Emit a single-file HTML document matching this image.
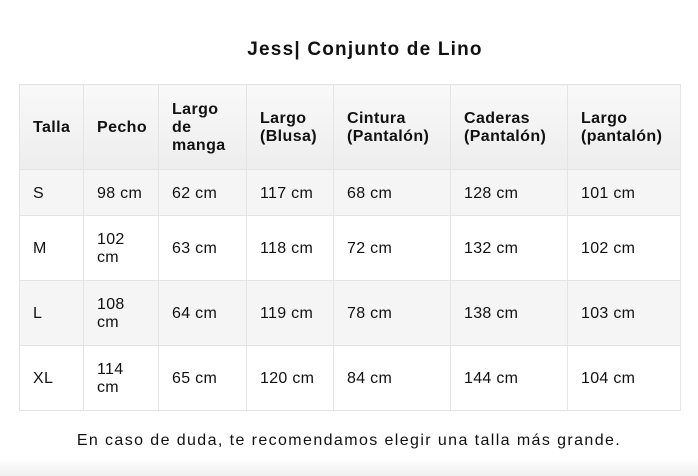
<!DOCTYPE html>
<html><head><meta charset="utf-8"><style>
body{margin:0;width:698px;height:476px;background:#fff;font-family:"Liberation Sans","DejaVu Sans",sans-serif;color:#111;position:relative;overflow:hidden}
.t{position:absolute;left:225px;top:39px;width:280px;text-align:center;font-weight:bold;font-size:19px;letter-spacing:1.2px;white-space:nowrap}
table{position:absolute;left:19px;top:84px;border-collapse:collapse;table-layout:fixed;width:661px;font-size:16px;letter-spacing:0.3px}
td,th{border:1px solid #e4e4e4;padding:2px 0 0 13px;text-align:left;vertical-align:middle;line-height:18px}
th{font-weight:bold;height:82px;background:linear-gradient(#f9f9f9,#ededed);letter-spacing:0.4px}
tr.g td{background:#f5f5f5}
.f{position:absolute;left:0;width:698px;top:432px;text-align:center;font-size:16px;letter-spacing:1.4px}
.b{position:absolute;left:0;top:458px;width:698px;height:18px;background:linear-gradient(#fff,#efefef)}
</style></head><body>
<div class="t">Jess| Conjunto de Lino</div>
<table>
<colgroup><col style="width:64px"><col style="width:75px"><col style="width:88px"><col style="width:87px"><col style="width:117px"><col style="width:117px"><col style="width:113px"></colgroup>
<tr><th>Talla</th><th>Pecho</th><th>Largo<br>de<br>manga</th><th>Largo<br>(Blusa)</th><th>Cintura<br>(Pantalón)</th><th>Caderas<br>(Pantalón)</th><th>Largo<br>(pantalón)</th></tr>
<tr class="g" style="height:46px"><td>S</td><td>98 cm</td><td>62 cm</td><td>117 cm</td><td>68 cm</td><td>128 cm</td><td>101 cm</td></tr>
<tr style="height:65px"><td>M</td><td>102<br>cm</td><td>63 cm</td><td>118 cm</td><td>72 cm</td><td>132 cm</td><td>102 cm</td></tr>
<tr class="g" style="height:65px"><td>L</td><td>108<br>cm</td><td>64 cm</td><td>119 cm</td><td>78 cm</td><td>138 cm</td><td>103 cm</td></tr>
<tr style="height:65px"><td>XL</td><td>114<br>cm</td><td>65 cm</td><td>120 cm</td><td>84 cm</td><td>144 cm</td><td>104 cm</td></tr>
</table>
<div class="b"></div>
<div class="f">En caso de duda, te recomendamos elegir una talla más grande.</div>
</body></html>
